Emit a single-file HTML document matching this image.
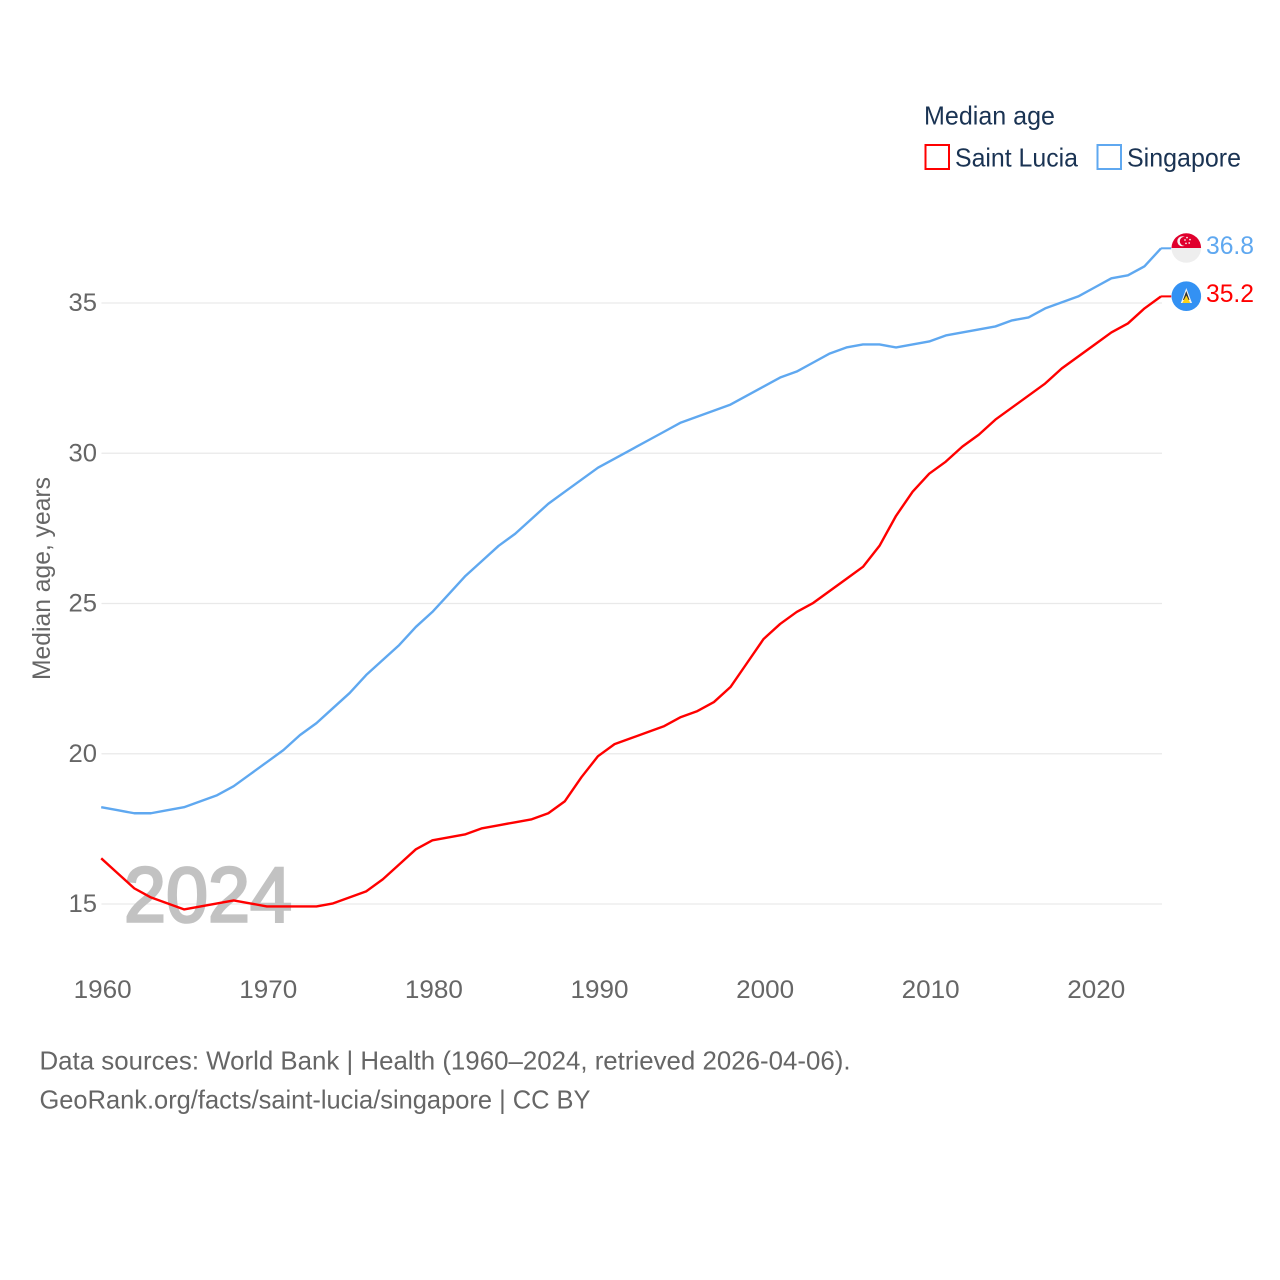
<!DOCTYPE html>
<html lang="en">
<head>
<meta charset="utf-8">
<title>Median age: Saint Lucia and Singapore</title>
<style>
html,body{margin:0;padding:0;background:#fff;width:1280px;height:1280px;overflow:hidden}
svg{display:block}
text{font-family:"Liberation Sans",sans-serif}
</style>
</head>
<body>
<svg id="chart" width="1280" height="1280" viewBox="0 0 1280 1280" xmlns="http://www.w3.org/2000/svg">
  <rect width="1280" height="1280" fill="#fff"/>
  <g id="grid"></g>
  <g id="yticks"></g>
  <g id="xticks"></g>
  <text x="124" y="921.5" font-size="78" fill="#c2c2c2" stroke="#c2c2c2" stroke-width="2.6" textLength="168" lengthAdjust="spacingAndGlyphs">2024</text>
  <g id="series" transform="translate(-0.8,-0.6)"></g>
  <text transform="translate(50,680) rotate(-90)" font-size="25" fill="#666" textLength="203" lengthAdjust="spacingAndGlyphs">Median age, years</text>

  <text x="924" y="124.5" font-size="26" fill="#1a3353" textLength="131" lengthAdjust="spacingAndGlyphs">Median age</text>
  <rect x="925.5" y="145" width="23.5" height="24" fill="#fff" stroke="#ff0000" stroke-width="2"/>
  <text x="955" y="166.5" font-size="26" fill="#1a3353" textLength="123" lengthAdjust="spacingAndGlyphs">Saint Lucia</text>
  <rect x="1097.5" y="145" width="23.5" height="24" fill="#fff" stroke="#5fa8f0" stroke-width="2"/>
  <text x="1127" y="166.5" font-size="26" fill="#1a3353" textLength="114" lengthAdjust="spacingAndGlyphs">Singapore</text>

  <g>
    <clipPath id="clip-sg"><circle cx="1186.3" cy="248" r="14.8"/></clipPath>
    <g clip-path="url(#clip-sg)">
      <rect x="1171" y="233" width="31" height="15" fill="#e0002d"/>
      <rect x="1171" y="248" width="31" height="15" fill="#eeeeee"/>
      <circle cx="1182.3" cy="241.3" r="5" fill="#f5f5f5"/>
      <circle cx="1184.4" cy="241.3" r="4.6" fill="#e0002d"/>
      <circle cx="1187" cy="237.6" r="0.85" fill="#f5f5f5"/>
      <circle cx="1190" cy="239.6" r="0.85" fill="#f5f5f5"/>
      <circle cx="1189.2" cy="243" r="0.85" fill="#f5f5f5"/>
      <circle cx="1186" cy="243.4" r="0.85" fill="#f5f5f5"/>
      <circle cx="1185" cy="240" r="0.85" fill="#f5f5f5"/>
    </g>
  </g>
  <g>
    <circle cx="1186.3" cy="296.2" r="14.8" fill="#3391f3"/>
    <polygon points="1186.3,288 1192,303 1180.8,303" fill="#f2f2f2"/>
    <polygon points="1186.3,291 1189.5,300 1183,300" fill="#333"/>
    <polygon points="1186.3,295.5 1190.3,303 1182.3,303" fill="#fcd116"/>
  </g>
  <text x="1206" y="254" font-size="25" fill="#5fa8f0" textLength="48" lengthAdjust="spacingAndGlyphs">36.8</text>
  <text x="1206" y="302" font-size="25" fill="#ff0000" textLength="48" lengthAdjust="spacingAndGlyphs">35.2</text>

  <text x="39.5" y="1069.5" font-size="26" fill="#666" textLength="811" lengthAdjust="spacingAndGlyphs">Data sources: World Bank | Health (1960–2024, retrieved 2026-04-06).</text>
  <text x="39.5" y="1108.5" font-size="26" fill="#666" textLength="551" lengthAdjust="spacingAndGlyphs">GeoRank.org/facts/saint-lucia/singapore | CC BY</text>
</svg>
<script>
var startYear = 1960;
var saintLucia = [16.5,16.0,15.5,15.2,15.0,14.8,14.9,15.0,15.1,15.0,14.9,14.9,14.9,14.9,15.0,15.2,15.4,15.8,16.3,16.8,17.1,17.2,17.3,17.5,17.6,17.7,17.8,18.0,18.4,19.2,19.9,20.3,20.5,20.7,20.9,21.2,21.4,21.7,22.2,23.0,23.8,24.3,24.7,25.0,25.4,25.8,26.2,26.9,27.9,28.7,29.3,29.7,30.2,30.6,31.1,31.5,31.9,32.3,32.8,33.2,33.6,34.0,34.3,34.8,35.2];
var singapore = [18.2,18.1,18.0,18.0,18.1,18.2,18.4,18.6,18.9,19.3,19.7,20.1,20.6,21.0,21.5,22.0,22.6,23.1,23.6,24.2,24.7,25.3,25.9,26.4,26.9,27.3,27.8,28.3,28.7,29.1,29.5,29.8,30.1,30.4,30.7,31.0,31.2,31.4,31.6,31.9,32.2,32.5,32.7,33.0,33.3,33.5,33.6,33.6,33.5,33.6,33.7,33.9,34.0,34.1,34.2,34.4,34.5,34.8,35.0,35.2,35.5,35.8,35.9,36.2,36.8];
var yTickValues = [15,20,25,30,35];
var xTickValues = [1960,1970,1980,1990,2000,2010,2020];

var NS = 'http://www.w3.org/2000/svg';
function xScale(year){ return 102 + (year - 1960) * 16.56; }
function yScale(v){ return 904 - (v - 15) * 30.05; }
function make(tag, attrs, parent){
  var el = document.createElementNS(NS, tag);
  for (var k in attrs) el.setAttribute(k, attrs[k]);
  parent.appendChild(el);
  return el;
}

var gridG = document.getElementById('grid');
var yG = document.getElementById('yticks');
yTickValues.forEach(function(v){
  var line = make('line', {x1:101.5, x2:1162, y1:yScale(v), y2:yScale(v), stroke:'#e9e9e9', 'stroke-width':1.2}, gridG);
  
  
  var t = make('text', {x:97, y:yScale(v) + 8, 'font-size':25, fill:'#666', 'text-anchor':'end', textLength:28.5, lengthAdjust:'spacingAndGlyphs'}, yG);
  
  
  t.textContent = String(v);
});

var xG = document.getElementById('xticks');
xTickValues.forEach(function(y){
  var t = make('text', {x:xScale(y) + 0.7, y:998, 'font-size':25, fill:'#666', 'text-anchor':'middle', textLength:58, lengthAdjust:'spacingAndGlyphs'}, xG);
  
  
  t.textContent = String(y);
});

function drawSeries(values, color, name){
  var g = document.getElementById('series');
  var pts = values.map(function(v, i){
    return xScale(startYear + i).toFixed(2) + ',' + yScale(v).toFixed(2);
  });
  var poly = make('polyline', {points:pts.join(' '), fill:'none', stroke:color, 'stroke-width':2.4, 'stroke-linejoin':'round'}, g);
  
  
  var last = values[values.length - 1];
  var lastX = xScale(startYear + values.length - 1);
  var conn = make('line', {x1:lastX, x2:1172, y1:yScale(last), y2:yScale(last), stroke:color, 'stroke-width':2}, g);
  
  
}
drawSeries(singapore, '#5fa8f0', 'singapore');
drawSeries(saintLucia, '#ff0000', 'saint-lucia');
</script>
</body>
</html>
